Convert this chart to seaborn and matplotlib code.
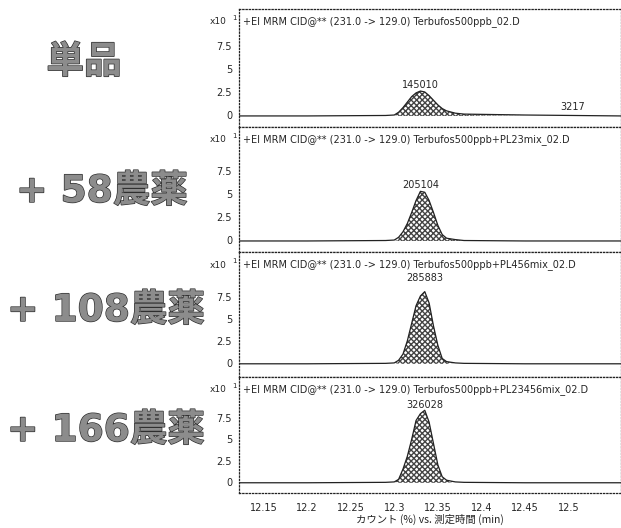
import numpy as np
import pandas as pd
import matplotlib
matplotlib.use("Agg")
import matplotlib.pyplot as plt
import matplotlib.patheffects as pe
import seaborn as sns

# retention time (min) sample points
times = [12.122, 12.20, 12.29, 12.30, 12.305, 12.31, 12.315, 12.32, 12.325, 12.33,
         12.335, 12.34, 12.345, 12.35, 12.355, 12.36, 12.37, 12.38, 12.45, 12.56]

# counts (x10^1) for each run
single = [-0.1, -0.1, -0.05, 0.0, 0.3, 0.8, 1.4, 2.0, 2.4, 2.6,
          2.5, 2.1, 1.6, 1.1, 0.7, 0.45, 0.2, 0.1, 0.0, -0.1]
mix58 = [-0.1, -0.1, -0.05, 0.0, 0.3, 0.9, 1.8, 3.0, 4.3, 5.3,
         5.2, 4.3, 3.0, 1.6, 0.6, 0.2, 0.05, -0.05, -0.1, -0.1]
mix108 = [-0.1, -0.1, -0.05, 0.0, 0.3, 1.0, 2.5, 4.5, 6.5, 7.6,
          8.1, 6.8, 4.2, 2.0, 0.5, 0.15, 0.0, -0.05, -0.1, -0.1]
mix166 = [-0.1, -0.1, -0.05, 0.0, 0.3, 1.5, 3.0, 5.0, 7.2, 8.0,
          8.4, 7.0, 4.5, 2.0, 0.6, 0.2, 0.0, -0.05, -0.1, -0.1]

series = [single, mix58, mix108, mix166]
areas = ["145010", "205104", "285883", "326028"]
row_labels = ["単品", "+ 58農薬", "+ 108農薬", "+ 166農薬"]
titles = ["+EI MRM CID@** (231.0 -> 129.0) Terbufos500ppb_02.D",
          "+EI MRM CID@** (231.0 -> 129.0) Terbufos500ppb+PL23mix_02.D",
          "+EI MRM CID@** (231.0 -> 129.0) Terbufos500ppb+PL456mix_02.D",
          "+EI MRM CID@** (231.0 -> 129.0) Terbufos500ppb+PL23456mix_02.D"]
xticks = [12.15, 12.2, 12.25, 12.3, 12.35, 12.4, 12.45, 12.5]
yticks = [0, 2.5, 5, 7.5]

sns.set_style("white")
plt.rcParams['font.family'] = ['DejaVu Sans', 'Noto Sans CJK JP']

fig = plt.figure(figsize=(6.21, 5.28), dpi=100)

W, H = 621.0, 528.0
PT = 72 / 100  # points per pixel
# panel pixel extents (top, bottom) and y-limits
boxes = [(9, 127), (127, 252), (252, 377), (377, 493)]
ylims = [(-1.3, 11.5), (-1.3, 12.3), (-1.6, 12.6), (-1.3, 12.3)]
left, right = 239 / W, 1.0
label_xy = [(84, 63), (102, 192), (106, 311), (106, 431)]
area_offset = [1, 1, 9, 0]

dotted = (0, (1, 1.6))
for i, (top, bot) in enumerate(boxes):
    ax = fig.add_axes([left, 1 - bot / H, right - left, (bot - top) / H])
    df = pd.DataFrame({"t": times, "y": series[i]})
    ax.fill_between(df["t"], df["y"], -0.1, where=df["y"] > 0.0,
                    facecolor="white", edgecolor="#444444", hatch="xxxxxx",
                    linewidth=0, interpolate=True)
    sns.lineplot(data=df, x="t", y="y", ax=ax, color="#222222", linewidth=0.9)
    ax.set_xlim(12.122, 12.56)
    ax.set_ylim(*ylims[i])
    ax.set_yticks(yticks)
    ax.set_yticklabels(["0", "2.5", "5", "7.5"], fontsize=7)
    ax.set_xlabel("")
    ax.set_ylabel("")
    ax.tick_params(axis="y", direction="out", length=3, width=0.7, pad=2)
    for s in ax.spines.values():
        s.set_linestyle(dotted)
        s.set_linewidth(0.9)
        s.set_color("#222222")
    if i < 3:
        ax.set_xticks([])
    else:
        ax.set_xticks(xticks)
        ax.set_xticklabels([f"{v:g}" for v in xticks], fontsize=7)
        ax.tick_params(axis="x", length=0, pad=10 * PT)
        ax.set_xlabel("カウント (%) vs. 測定時間 (min)", fontsize=7.5,
                      family=['Noto Sans CJK JP', 'DejaVu Sans'], labelpad=1)
    ax.annotate(titles[i], xy=(0, 1), xycoords="axes fraction",
                xytext=(3, -13 * PT), textcoords="offset points",
                fontsize=7, va="center", ha="left")
    ax.annotate("x10", xy=(0, 1), xycoords="axes fraction",
                xytext=(-12 * PT, -13 * PT), textcoords="offset points",
                fontsize=6.5, va="center", ha="right")
    ax.annotate("1", xy=(0, 1), xycoords="axes fraction",
                xytext=(-7 * PT, -9 * PT), textcoords="offset points",
                fontsize=5, va="center", ha="left")
    apex = int(np.argmax(series[i]))
    ax.annotate(areas[i], xy=(times[apex], series[i][apex]),
                xytext=(0, area_offset[i] * PT), textcoords="offset points",
                fontsize=7, ha="center", va="bottom")
    if i == 0:
        ax.text(12.505, 0.3, "3217", fontsize=7, ha="center", va="bottom")

    fig.text(label_xy[i][0] / W, 1 - label_xy[i][1] / H, row_labels[i],
             fontsize=27, fontweight="bold", color="#8c8c8c",
             ha="center", va="center",
             family=['DejaVu Sans', 'Noto Sans CJK JP'],
             path_effects=[pe.withStroke(linewidth=1.0, foreground="#2e2e2e")])

fig.savefig("out.png", dpi=100)
